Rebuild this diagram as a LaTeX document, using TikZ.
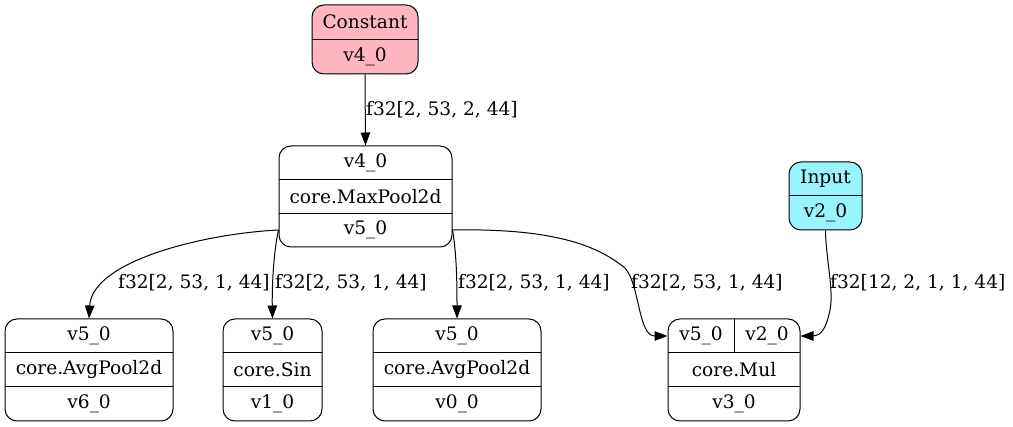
\documentclass[tikz,border=0pt]{standalone}
\usepackage{fontspec}
\setmainfont{DejaVu Serif}
\usetikzlibrary{arrows.meta}
\definecolor{constfill}{HTML}{FFB6C1}
\definecolor{inputfill}{HTML}{98F5FF}
\begin{document}
\begin{tikzpicture}[x=1pt,y=-1pt,
  rec/.style={draw, rounded corners=12pt, line width=1pt, inner sep=0pt},
  sep/.style={line width=1pt},
  fld/.style={inner sep=0pt, font=\fontsize{18.6}{22}\selectfont},
  lbl/.style={inner sep=0pt, anchor=west, font=\fontsize{18.6}{22}\selectfont},
  flow/.style={draw, line width=1pt, -{Triangle[length=13pt,width=9.5pt]}}]
\useasboundingbox (0,0) rectangle (1013,427);

% Constant source
\node[rec, fill=constfill, minimum width=106pt, minimum height=69pt] (const) at (365,39.5) {};
\draw[sep] (312,39.5) -- (418,39.5);
\node[fld] (const-op) at (365,22) {Constant};
\node[fld] (const-out) at (365,57) {v4\_0};

% MaxPool2d
\node[rec, minimum width=173pt, minimum height=101pt] (mp) at (365.5,196.5) {};
\draw[sep] (279,179.7) -- (452,179.7);
\draw[sep] (279,213.3) -- (452,213.3);
\node[fld] (mp-in) at (365.5,163) {v4\_0};
\node[fld] (mp-op) at (365.5,196.5) {core.MaxPool2d};
\node[fld] (mp-out) at (365.5,230) {v5\_0};

% Input source
\node[rec, fill=inputfill, minimum width=73pt, minimum height=68pt] (inp) at (825.5,196) {};
\draw[sep] (789,196) -- (862,196);
\node[fld] (inp-op) at (825.5,179) {Input};
\node[fld] (inp-out) at (825.5,213) {v2\_0};

% AvgPool2d (left)
\node[rec, minimum width=168pt, minimum height=102pt] (av1) at (89,370) {};
\draw[sep] (5,353) -- (173,353);
\draw[sep] (5,387) -- (173,387);
\node[fld] (av1-in) at (89,336) {v5\_0};
\node[fld] (av1-op) at (89,370) {core.AvgPool2d};
\node[fld] (av1-out) at (89,404) {v6\_0};

% Sin
\node[rec, minimum width=99pt, minimum height=102pt] (sin) at (272.5,370) {};
\draw[sep] (223,353) -- (322,353);
\draw[sep] (223,387) -- (322,387);
\node[fld] (sin-in) at (272.5,336) {v5\_0};
\node[fld] (sin-op) at (272.5,370) {core.Sin};
\node[fld] (sin-out) at (272.5,404) {v1\_0};

% AvgPool2d (middle)
\node[rec, minimum width=168pt, minimum height=102pt] (av2) at (457,370) {};
\draw[sep] (373,353) -- (541,353);
\draw[sep] (373,387) -- (541,387);
\node[fld] (av2-in) at (457,336) {v5\_0};
\node[fld] (av2-op) at (457,370) {core.AvgPool2d};
\node[fld] (av2-out) at (457,404) {v0\_0};

% Mul
\node[rec, minimum width=132pt, minimum height=102pt] (mul) at (734,370) {};
\draw[sep] (668,353) -- (800,353);
\draw[sep] (668,387) -- (800,387);
\draw[sep] (734,319) -- (734,353);
\node[fld] (mul-a) at (701,336) {v5\_0};
\node[fld] (mul-b) at (767,336) {v2\_0};
\node[fld] (mul-op) at (734,370) {core.Mul};
\node[fld] (mul-out) at (734,404) {v3\_0};

% connectors
\draw[flow] (const.south) -- (mp.north);
\draw[flow] (mp.west |- mp-out) .. controls (200,234) and (92,262) .. (av1.north);
\draw[flow] (mp.west |- mp-out) .. controls (273,255) and (272,290) .. (sin.north);
\draw[flow] (mp.east |- mp-out) .. controls (457,255) and (457,290) .. (av2.north);
\draw[flow] (mp.east |- mp-out) .. controls (560,228) and (600,248) .. (625,268)
  .. controls (640,285) and (638,336) .. (mul.west |- mul-a);
\draw[flow] (inp.south) .. controls (826,260) and (834,290) .. (830,310)
  .. controls (826,330) and (820,336) .. (mul.east |- mul-b);

% tensor labels
\node[lbl] (l0) at (366,110) {f32[2, 53, 2, 44]};
\node[lbl] (l1) at (118,283) {f32[2, 53, 1, 44]};
\node[lbl] (l2) at (275,283) {f32[2, 53, 1, 44]};
\node[lbl] (l3) at (458,283) {f32[2, 53, 1, 44]};
\node[lbl] (l4) at (631,283) {f32[2, 53, 1, 44]};
\node[lbl] (l5) at (830,283) {f32[12, 2, 1, 1, 44]};
\end{tikzpicture}
\end{document}
